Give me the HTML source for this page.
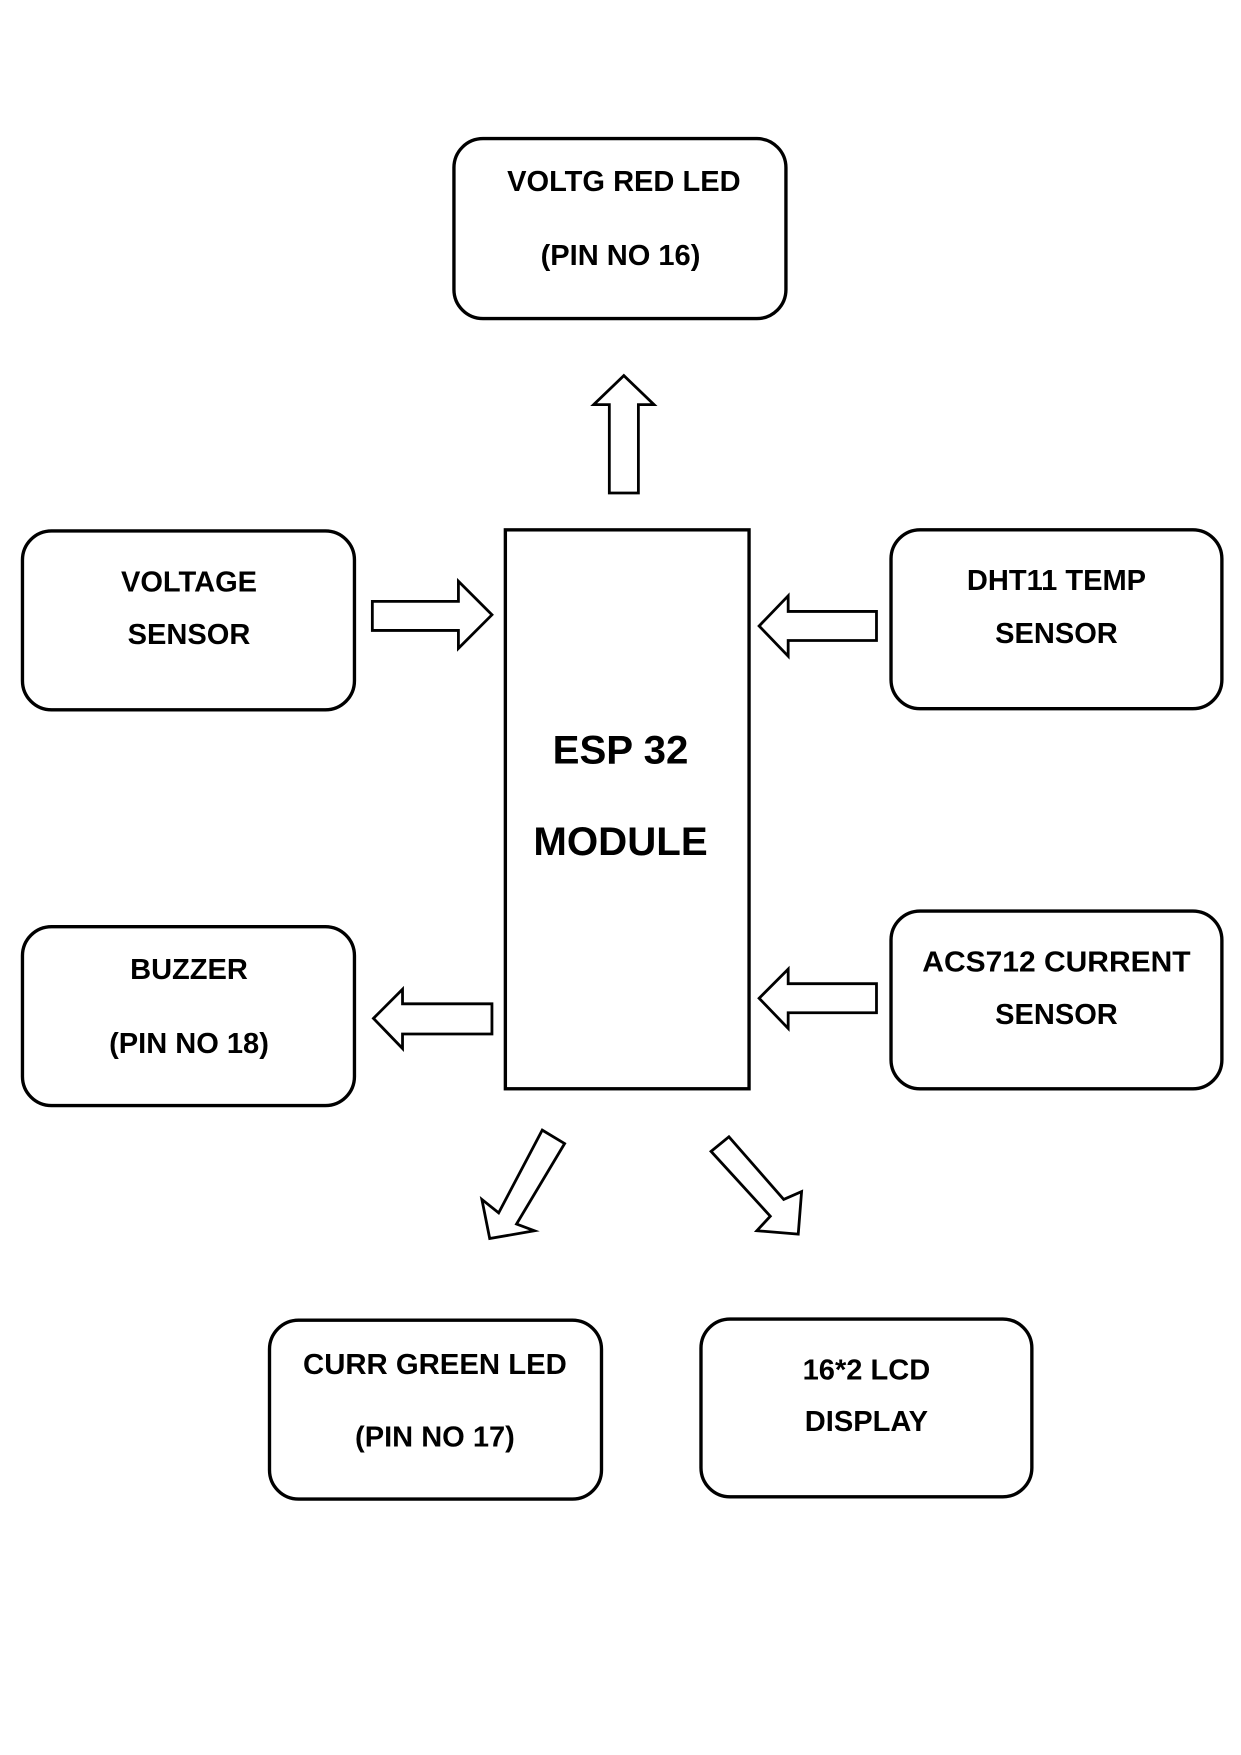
<!DOCTYPE html>
<html><head><meta charset="utf-8"><style>
html,body{margin:0;padding:0;background:#fff}
svg{display:block}
text{font-family:"Liberation Sans",sans-serif;font-weight:bold;fill:#000;text-anchor:middle}
</style></head><body>
<svg width="1241" height="1755" viewBox="0 0 1110 1570" xmlns="http://www.w3.org/2000/svg">
<g fill="none" stroke="#000" stroke-width="3">
<rect x="406" y="124" width="297" height="161" rx="26"/>
<rect x="20" y="475" width="297" height="160" rx="26"/>
<rect x="797" y="474" width="296" height="160" rx="26"/>
<rect x="797" y="815" width="296" height="159" rx="26"/>
<rect x="20" y="829" width="297" height="160" rx="26"/>
<rect x="241" y="1181" width="297" height="160" rx="26"/>
<rect x="627" y="1180" width="296" height="159" rx="26"/>
<rect x="452" y="474" width="218" height="500"/>
</g>
<g fill="#fff" stroke="#000" stroke-width="2.5" stroke-linejoin="miter">
<polygon points="545,441 571,441 571,362 585,362 558,336 531,362 545,362"/>
<polygon points="333,538 410,538 410,520 440,550 410,580 410,564 333,564"/>
<polygon points="784,547 705,547 705,533 679,560 705,587 705,573 784,573"/>
<polygon points="784,880 705,880 705,867 679,893 705,920 705,906 784,906"/>
<polygon points="440,898 360,898 360,885 334,911 360,938 360,925 440,925"/>
<polygon points="485,1011 505,1023 462,1095 478,1101 438,1108 431,1073 446,1085"/>
<polygon points="652,1017 701,1073 717,1066 714,1104 677,1101 689,1088 636,1030"/>
</g>
<g font-size="26">
<text x="558" y="171">VOLTG RED LED</text>
<text x="555" y="237">(PIN NO 16)</text>
<text x="169" y="529">VOLTAGE</text>
<text x="169" y="576">SENSOR</text>
<text x="945" y="528">DHT11 TEMP</text>
<text x="945" y="575">SENSOR</text>
<text x="945" y="869" textLength="240" lengthAdjust="spacingAndGlyphs">ACS712 CURRENT</text>
<text x="945" y="916">SENSOR</text>
<text x="169" y="876">BUZZER</text>
<text x="169" y="942">(PIN NO 18)</text>
<text x="389" y="1229" textLength="236" lengthAdjust="spacingAndGlyphs">CURR GREEN LED</text>
<text x="389" y="1294">(PIN NO 17)</text>
<text x="775" y="1234">16*2 LCD</text>
<text x="775" y="1280">DISPLAY</text>
</g>
<g font-size="36">
<text x="555" y="683">ESP 32</text>
<text x="555" y="765">MODULE</text>
</g>
</svg>
</body></html>
